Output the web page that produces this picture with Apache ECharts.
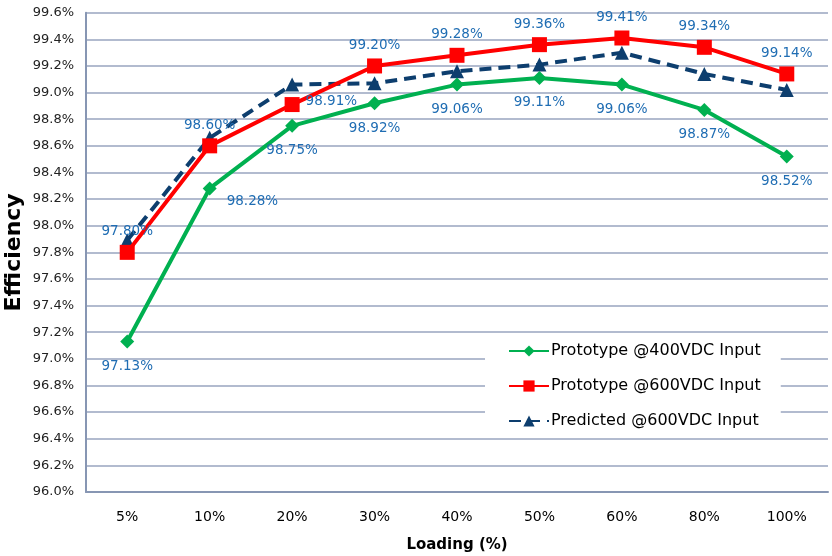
<!DOCTYPE html>
<html><head><meta charset="utf-8">
<script src="https://cdn.jsdelivr.net/npm/echarts@6/dist/echarts.min.js"></script>
<style>html,body{margin:0;padding:0;background:#fff}#c{width:832px;height:556px}</style>
</head><body><div id="c"></div>
<script>
const categories = ['5%','10%','20%','30%','40%','50%','60%','80%','100%'];
const proto400 = [97.13, 98.28, 98.75, 98.92, 99.06, 99.11, 99.06, 98.87, 98.52];
const proto600 = [97.80, 98.60, 98.91, 99.20, 99.28, 99.36, 99.41, 99.34, 99.14];
const predicted600 = [97.89, 98.66, 99.06, 99.07, 99.16, 99.21, 99.30, 99.14, 99.02];
const seriesNames = ['Prototype @400VDC Input', 'Prototype @600VDC Input', 'Predicted @600VDC Input'];

const font = 'DejaVu Sans, Verdana, sans-serif';
const labelColor = '#1F6DB3';
const fmt = p => p.value.toFixed(2) + '%';

const greenData = proto400.map((v, i) => i === 1
  ? {value: v, label: {position: 'right', distance: 10, offset: [0, 13]}} : v);
const redData = proto600.map((v, i) => i === 2
  ? {value: v, label: {position: 'right', distance: 6, offset: [0, -3]}} : v);

const chart = echarts.init(document.getElementById('c'));
chart.setOption({
  animation: false,
  grid: {left: 86, right: 4, top: 12.7, bottom: 64, containLabel: false, outerBoundsMode: 'none'},
  legend: {
    orient: 'vertical', left: 485, top: 334,
    padding: [9, 20, 9, 23], itemGap: 19, itemWidth: 40, itemHeight: 14,
    backgroundColor: '#fff',
    textStyle: {fontFamily: font, fontSize: 16, color: '#000', padding: [0,0,0,-3]},
    data: seriesNames
  },
  xAxis: {
    type: 'category', data: categories,
    name: 'Loading (%)', nameLocation: 'middle', nameGap: 46,
    nameTextStyle: {fontFamily: font, fontSize: 15, fontWeight: 'bold', color: '#000'},
    axisLine: {lineStyle: {color: '#8796B3', width: 2}},
    axisTick: {show: false},
    axisLabel: {fontFamily: font, fontSize: 14, color: '#000', margin: 18}
  },
  yAxis: {
    type: 'value', min: 96.0, max: 99.6, interval: 0.2,
    name: 'Efficiency', nameLocation: 'middle', nameGap: 61, nameRotate: 90,
    nameMoveOverlap: false,
    nameTextStyle: {fontFamily: font, fontSize: 22, fontWeight: 'bold', color: '#000'},
    axisLine: {show: true, lineStyle: {color: '#8796B3', width: 2}},
    axisTick: {show: false},
    splitLine: {lineStyle: {color: '#98A5BF', width: 1.5}},
    axisLabel: {fontFamily: font, fontSize: 13, color: '#222', margin: 12,
      formatter: v => v.toFixed(1) + '%'}
  },
  series: [
    {
      name: seriesNames[0], type: 'line', data: greenData,
      color: '#00B050', symbol: 'diamond', symbolSize: 14,
      lineStyle: {width: 4, color: '#00B050'},
      itemStyle: {color: '#00B050'},
      label: {show: true, position: 'bottom', distance: 11, formatter: fmt,
        fontFamily: font, fontSize: 13.5, color: labelColor},
      z: 3
    },
    {
      name: seriesNames[1], type: 'line', data: redData,
      color: '#FF0000', symbol: 'rect', symbolSize: 15,
      lineStyle: {width: 4, color: '#FF0000'},
      itemStyle: {color: '#FF0000'},
      label: {show: true, position: 'top', distance: 6, formatter: fmt,
        fontFamily: font, fontSize: 13.5, color: labelColor},
      z: 4
    },
    {
      name: seriesNames[2], type: 'line', data: predicted600,
      color: '#0D3E6E', symbol: 'triangle', symbolSize: 14,
      lineStyle: {width: 4, color: '#0D3E6E', type: [12, 7]},
      itemStyle: {color: '#0D3E6E'},
      z: 2
    }
  ]
});
</script>
</body></html>
